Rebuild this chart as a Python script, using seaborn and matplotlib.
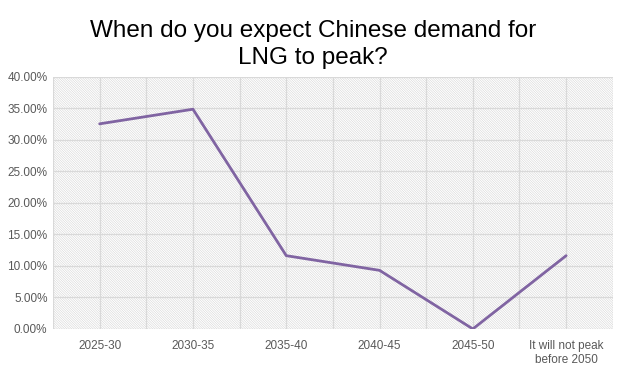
import numpy as np
import matplotlib
matplotlib.use("Agg")
import matplotlib.pyplot as plt
import seaborn as sns
import pandas as pd
from matplotlib.patches import Rectangle
from matplotlib.ticker import PercentFormatter, MultipleLocator

# data
categories = ['2025-30', '2030-35', '2035-40', '2040-45', '2045-50',
              'It will not peak\nbefore 2050']
share = [32.56, 34.88, 11.63, 9.30, 0.0, 11.63]

df = pd.DataFrame({'period': categories, 'share': share})

sns.set_style("white")
plt.rcParams['font.family'] = ['Liberation Sans', 'DejaVu Sans']
plt.rcParams['hatch.linewidth'] = 0.35
plt.rcParams['hatch.color'] = '#cfcfcf'

fig = plt.figure(figsize=(6.24, 3.70), dpi=100)
ax = fig.add_axes([0.085, 0.111, 0.897, 0.681])

# hatched plot background
bg = Rectangle((0, 0), 1, 1, transform=ax.transAxes, facecolor='white',
               edgecolor='#cfcfcf', hatch='\\' * 14, linewidth=0, zorder=0)
ax.add_patch(bg)

x = np.arange(len(categories))
sns.lineplot(x=x, y=df['share'], ax=ax, color='#8064a2', linewidth=2, zorder=3)

ax.set_xlim(-0.5, len(categories) - 0.5)
ax.set_ylim(0, 40)
ax.set_xticks(x)
ax.set_xticklabels(categories)
ax.set_xticks(np.arange(-0.5, len(categories)), minor=True)
ax.yaxis.set_major_locator(MultipleLocator(5))
ax.yaxis.set_major_formatter(PercentFormatter(decimals=2))

ax.grid(True, which='both', axis='x', color='#d9d9d9', linewidth=0.9, zorder=1)
ax.grid(True, which='major', axis='y', color='#d9d9d9', linewidth=0.9, zorder=1)
ax.set_axisbelow(True)
ax.tick_params(which='both', length=0)
ax.tick_params(axis='x', pad=8)
ax.tick_params(axis='y', pad=4)
for lab in ax.get_xticklabels() + ax.get_yticklabels():
    lab.set_color('#595959')
    lab.set_fontsize(8.5)
for s in ax.spines.values():
    s.set_visible(False)
ax.set_xlabel('')
ax.set_ylabel('')

fig.text(0.502, 0.945, 'When do you expect Chinese demand for\nLNG to peak?',
         ha='center', va='top', fontsize=17.5, color='black', linespacing=1.3)

fig.savefig('out.png', dpi=100)
